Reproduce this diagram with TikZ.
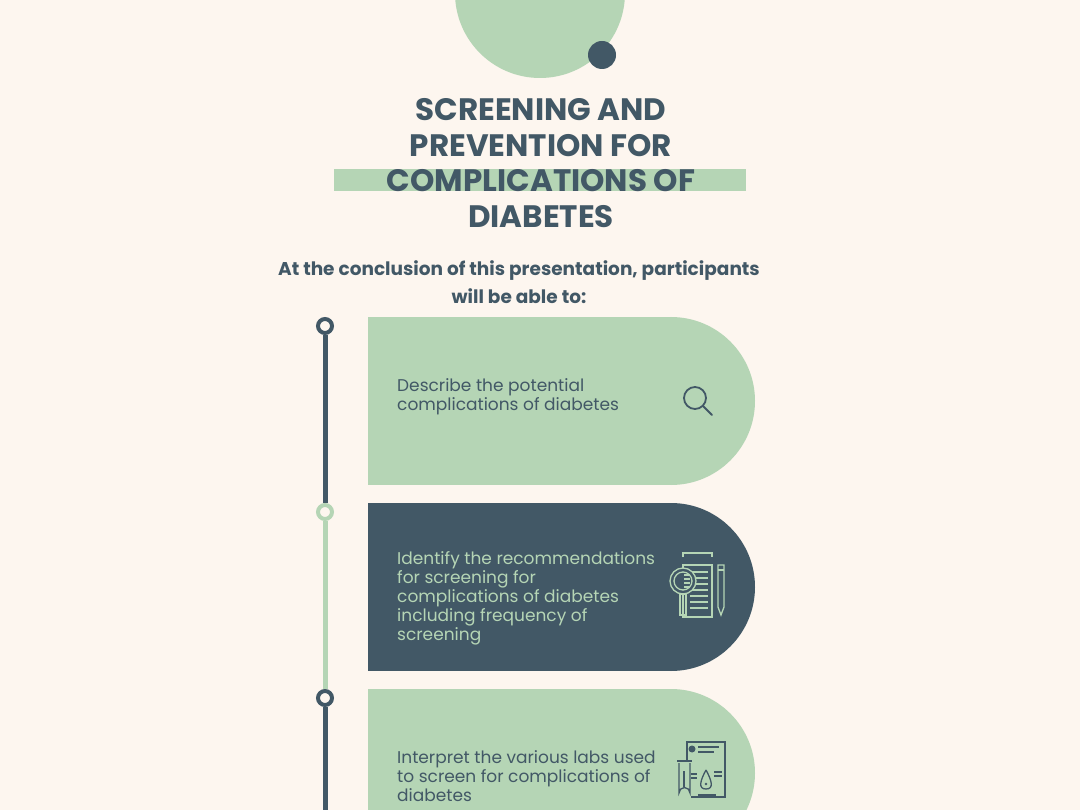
\documentclass[tikz,border=0pt]{standalone}
\usepackage{fontspec}
\setmainfont{Poppins}
\definecolor{bg}{HTML}{FDF6EF}
\definecolor{gr}{HTML}{B5D5B5}
\definecolor{dk}{HTML}{425866}
\begin{document}
\begin{tikzpicture}[x=1pt,y=-1pt,
  title/.style={font=\bfseries\fontsize{31}{35.5}\selectfont,text=dk,align=center},
  body/.style={font=\fontsize{17}{19}\selectfont,align=left,anchor=west,inner sep=0pt},
  dot/.style={circle,draw=#1,line width=4pt,fill=bg,minimum size=14pt,inner sep=0pt}]
\fill[bg] (0,0) rectangle (1080,810);
\useasboundingbox (0,0) rectangle (1080,810);
\fill[gr] (540,-7) circle (85);
\fill[dk] (602,55) circle (14);
\fill[gr] (334,169) rectangle (746,191);
\node[title] (t) at (541,163) {SCREENING AND\\PREVENTION FOR\\COMPLICATIONS OF\\DIABETES};
\node[font=\bfseries\fontsize{18.5}{28}\selectfont,text=dk,align=center] (s) at (519,282) {At the conclusion of this presentation, participants\\will be able to:};
% timeline
\coordinate (bot) at (325,815);
\node[dot=dk] (d1) at (325,326) {};
\node[dot=gr] (d2) at (325,512) {};
\node[dot=dk] (d3) at (325,698) {};
\draw[dk,line width=5pt] (d1) -- (d2);
\draw[gr,line width=5pt] (d2) -- (d3);
\draw[dk,line width=5pt] (d3) -- (bot);
% boxes
\fill[gr] (368,317) rectangle (671,485);
\fill[gr] (671,401) circle (84);
\fill[dk] (368,503) rectangle (671,671);
\fill[dk] (671,587) circle (84);
\fill[gr] (368,689) rectangle (671,857);
\fill[gr] (671,773) circle (84);
\node[body,text=dk] (b1) at (397,397) {Describe the potential\\complications of diabetes};
\node[body,text=gr] (b2) at (397,598) {Identify the recommendations\\for screening for\\complications of diabetes\\including frequency of\\screening};
\node[body,text=dk] (b3) at (397,776) {Interpret the various labs used\\to screen for complications of\\diabetes};
% icon 1 magnifier
\draw[dk,line width=1.8pt] (695,398) circle (11);
\draw[dk,line width=1.8pt,line cap=round] (703,406) -- (712,415);
% icon 2
\begin{scope}[gr,line width=1.3pt]
\draw (683,557) -- (683,553) -- (712,553) -- (712,557);
\draw (683,565) rectangle (712,617);
\foreach \y in {572,578,584,590,596,602,608} \draw (690,\y) -- (708,\y);
\fill[dk] (683,581) circle (13);
\draw (683,581) circle (13);
\draw (683,581) circle (9);
\foreach \y in {575,579,583,587} \draw (684,\y) -- (690,\y);
\draw (680,594) rectangle (686,615);
\draw (718,565) -- (718,607) -- (721,615) -- (724,607) -- (724,565) -- cycle;
\draw (718,570) -- (724,570);
\end{scope}
% icon 3
\begin{scope}[dk,line width=1.3pt]
\draw (687,742) rectangle (725,797);
\fill (692,749) circle (3.5);
\draw (698,747) -- (719,747); \draw (698,752) -- (714,752);
\draw (706,770) .. controls (700,781) and (698,789) .. (706,789) .. controls (714,789) and (712,781) .. (706,770);
\fill (706,784) circle (1.3);
\draw (690,774) -- (697,774); \draw (690,778) -- (697,778);
\draw (714,772) -- (722,772); \draw (714,776) -- (722,776);
\draw (698,795) -- (716,795);
\fill[gr] (678,762) rectangle (691,799);
\draw (677,761) -- (692,761);
\draw (679,763) -- (679,793) arc (180:360:5.5) -- (690,763);
\draw (684,771) -- (684,787);
\end{scope}
\end{tikzpicture}
\end{document}
